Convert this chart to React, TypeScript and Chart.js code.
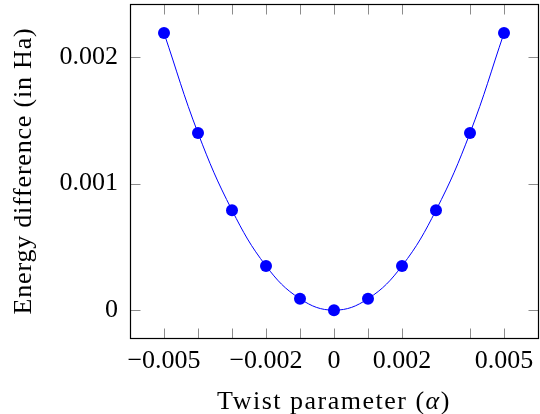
import { useEffect, useRef } from 'react';
import { Chart, registerables } from 'chart.js';

Chart.register(...registerables);

const ALPHA = [-0.005, -0.004, -0.003, -0.002, -0.001, 0, 0.001, 0.002, 0.003, 0.004, 0.005];
const ENERGY = [0.00219, 0.0014, 0.00079, 0.00035, 0.00009, 0, 0.00009, 0.00035, 0.00079, 0.0014, 0.00219];

const X_TICKS = [-0.005, -0.004, -0.003, -0.002, -0.001, 0, 0.001, 0.002, 0.004, 0.005];
const X_TICK_LABELS = ['\u22120.005', '', '', '\u22120.002', '', '0', '', '0.002', '', '0.005'];
const Y_TICKS = [0, 0.001, 0.002];
const Y_TICK_LABELS = ['0', '0.001', '0.002'];

const X_TITLE_PARTS = ['Twist parameter (', '\u03b1', ')'];
const Y_TITLE = 'Energy difference (in Ha)';

const FAMILY = '"Liberation Serif", "Times New Roman", serif';
const BLUE = '#0000ff';

const framePlugin = {
  id: 'frame',
  beforeDatasetsDraw(chart: any) {
    const { ctx, chartArea: a, scales } = chart;
    const xs = scales.x;
    const ys = scales.y;
    const L = Math.round(a.left) + 0.5;
    const R = Math.round(a.right) + 0.5;
    const T = Math.round(a.top) + 0.5;
    const B = Math.round(a.bottom) + 0.5;
    const len = 10;
    ctx.save();
    ctx.strokeStyle = '#8c8c8c';
    ctx.lineWidth = 1;
    ctx.beginPath();
    X_TICKS.forEach((v) => {
      const px = Math.round(xs.getPixelForValue(v)) + 0.5;
      ctx.moveTo(px, B);
      ctx.lineTo(px, B - len);
      ctx.moveTo(px, T);
      ctx.lineTo(px, T + len);
    });
    Y_TICKS.forEach((v) => {
      const py = Math.round(ys.getPixelForValue(v)) + 0.5;
      ctx.moveTo(L, py);
      ctx.lineTo(L + len, py);
      ctx.moveTo(R, py);
      ctx.lineTo(R - len, py);
    });
    ctx.stroke();
    ctx.strokeStyle = '#000';
    ctx.lineWidth = 1.2;
    ctx.strokeRect(L, T, R - L, B - T);
    ctx.restore();
  },
  afterDraw(chart: any) {
    const { ctx, chartArea: a } = chart;
    ctx.save();
    ctx.fillStyle = '#000';
    ctx.textBaseline = 'alphabetic';
    const normal = `26px ${FAMILY}`;
    const italic = `italic 26px ${FAMILY}`;
    (ctx as any).letterSpacing = '1.5px';
    ctx.font = normal;
    const w1 = ctx.measureText(X_TITLE_PARTS[0]).width;
    ctx.font = italic;
    const w2 = ctx.measureText(X_TITLE_PARTS[1]).width;
    ctx.font = normal;
    const w3 = ctx.measureText(X_TITLE_PARTS[2]).width;
    const total = w1 + w2 + w3;
    let x = (a.left + a.right) / 2 - total / 2;
    const y = a.bottom + 71;
    ctx.textAlign = 'left';
    ctx.font = normal;
    ctx.fillText(X_TITLE_PARTS[0], x, y);
    x += w1;
    ctx.font = italic;
    ctx.fillText(X_TITLE_PARTS[1], x, y);
    x += w2;
    ctx.font = normal;
    ctx.fillText(X_TITLE_PARTS[2], x, y);
    (ctx as any).letterSpacing = '0.8px';
    ctx.translate(a.left - 99, (a.top + a.bottom) / 2);
    ctx.rotate(-Math.PI / 2);
    ctx.textAlign = 'center';
    ctx.font = normal;
    ctx.fillText(Y_TITLE, 0, 0);
    ctx.restore();
  },
};

const zeroPad = (s: any) => {
  s.paddingTop = 0;
  s.paddingBottom = 0;
  s.paddingLeft = 0;
  s.paddingRight = 0;
};

export default function App() {
  const ref = useRef<HTMLCanvasElement | null>(null);

  useEffect(() => {
    const canvas = ref.current;
    if (!canvas) return;
    const tickFont = { family: FAMILY, size: 26, lineHeight: 1.2 };
    const chart = new Chart(canvas, {
      type: 'line',
      data: {
        datasets: [
          {
            data: ALPHA.map((a, i) => ({ x: a, y: ENERGY[i] })),
            borderColor: BLUE,
            backgroundColor: BLUE,
            borderWidth: 1,
            pointRadius: 6,
            pointHoverRadius: 6,
            pointBorderWidth: 0,
            pointBackgroundColor: BLUE,
            tension: 0.4,
            fill: false,
            clip: false,
          },
        ],
      },
      options: {
        animation: false,
        responsive: false,
        events: [],
        layout: { autoPadding: false, padding: { left: 0, top: 4, right: 2, bottom: 0 } },
        plugins: {
          legend: { display: false },
          tooltip: { enabled: false },
          title: { display: false },
        },
        scales: {
          x: {
            type: 'linear',
            min: -0.006,
            max: 0.006,
            afterBuildTicks: (s: any) => {
              s.ticks = X_TICKS.map((v) => ({ value: v }));
            },
            afterFit: (s: any) => {
              s.height = 76;
              zeroPad(s);
            },
            ticks: {
              autoSkip: false,
              maxRotation: 0,
              minRotation: 0,
              padding: 8,
              color: '#000',
              font: tickFont,
              callback: (_v: any, i: number) => X_TICK_LABELS[i],
            },
            grid: { display: false, drawTicks: false },
            border: { display: false },
          },
          y: {
            type: 'linear',
            min: -0.00022,
            max: 0.00242,
            afterBuildTicks: (s: any) => {
              s.ticks = Y_TICKS.map((v) => ({ value: v }));
            },
            afterFit: (s: any) => {
              s.width = 130;
              zeroPad(s);
            },
            ticks: {
              autoSkip: false,
              padding: 12,
              color: '#000',
              font: tickFont,
              callback: (_v: any, i: number) => Y_TICK_LABELS[i],
            },
            grid: { display: false, drawTicks: false },
            border: { display: false },
          },
        },
      },
      plugins: [framePlugin],
    });
    return () => chart.destroy();
  }, []);

  return (
    <div style={{ position: 'absolute', left: 0, top: 0, width: 540, height: 414, background: '#fff' }}>
      <canvas ref={ref} width={540} height={414} style={{ display: 'block' }} />
    </div>
  );
}
